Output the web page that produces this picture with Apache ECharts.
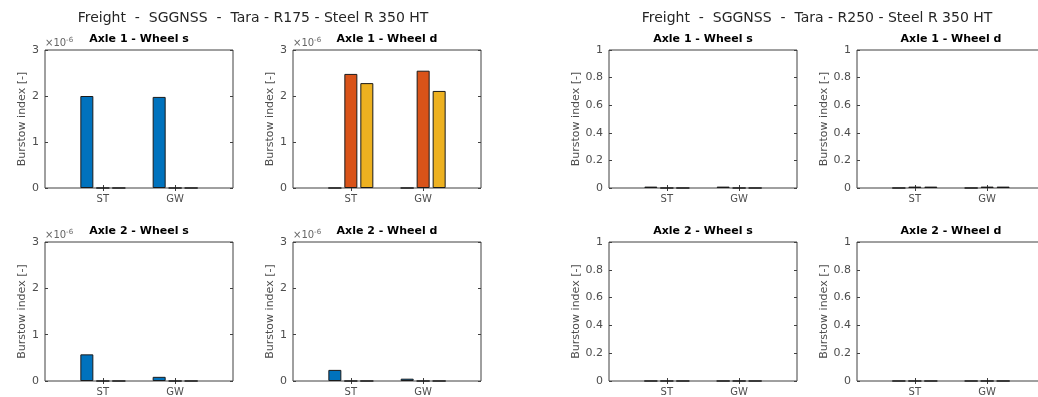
<!DOCTYPE html>
<html>
<head>
<meta charset="utf-8">
<script src="https://cdn.jsdelivr.net/npm/echarts@6/dist/echarts.min.js"></script>
<style>
  html, body { margin: 0; padding: 0; background: #fff; overflow: hidden; }
  #chart { width: 1038px; height: 397px; }
</style>
</head>
<body>
<div id="chart"></div>
<script>
// Categories and bar series
const categories = ['ST', 'GW'];
const seriesNames = ['Series 1', 'Series 2', 'Series 3'];
const seriesColors = ['#0072BD', '#D95319', '#EDB120'];

const panelTitles = ['Axle 1 - Wheel s', 'Axle 1 - Wheel d', 'Axle 2 - Wheel s', 'Axle 2 - Wheel d'];
const figureTitles = [
  'Freight  -  SGGNSS  -  Tara - R175 - Steel R 350 HT',
  'Freight  -  SGGNSS  -  Tara - R250 - Steel R 350 HT'
];
const yAxisName = 'Burstow index [-]';

// Burstow index, one row per bar series, values for [ST, GW]
const r175Axle1S = [[2.00e-6, 1.98e-6], [0, 0], [0, 0]];
const r175Axle1D = [[0, 0], [2.48e-6, 2.55e-6], [2.28e-6, 2.11e-6]];
const r175Axle2S = [[0.575e-6, 0.09e-6], [0, 0], [0, 0]];
const r175Axle2D = [[0.24e-6, 0.05e-6], [0, 0], [0, 0]];
const r250Axle1S = [[0.01, 0.01], [0, 0], [0, 0]];
const r250Axle1D = [[0, 0], [0.01, 0.01], [0.01, 0.01]];
const r250Axle2S = [[0, 0], [0, 0], [0, 0]];
const r250Axle2D = [[0, 0], [0, 0], [0, 0]];

// Y tick values
const r175Ticks = [0, 1e-6, 2e-6, 3e-6];
const r250Ticks = [0, 0.2, 0.4, 0.6, 0.8, 1];

// ---- layout ----
const FONT = 'DejaVu Sans';
const AXIS_COLOR = '#404040';
const LABEL_COLOR = '#4d4d4d';
const colLeft = [45, 293, 609, 857];
const rowTop = [50, 242];
const rowHeight = [138, 139];
const panelWidth = 188;
const xRange = [0.2, 2.8];

const panels = [
  { data: r175Axle1S, col: 0, row: 0, title: panelTitles[0], ticks: r175Ticks, scaled: true },
  { data: r175Axle1D, col: 1, row: 0, title: panelTitles[1], ticks: r175Ticks, scaled: true },
  { data: r175Axle2S, col: 0, row: 1, title: panelTitles[2], ticks: r175Ticks, scaled: true },
  { data: r175Axle2D, col: 1, row: 1, title: panelTitles[3], ticks: r175Ticks, scaled: true },
  { data: r250Axle1S, col: 2, row: 0, title: panelTitles[0], ticks: r250Ticks, scaled: false },
  { data: r250Axle1D, col: 3, row: 0, title: panelTitles[1], ticks: r250Ticks, scaled: false },
  { data: r250Axle2S, col: 2, row: 1, title: panelTitles[2], ticks: r250Ticks, scaled: false },
  { data: r250Axle2D, col: 3, row: 1, title: panelTitles[3], ticks: r250Ticks, scaled: false }
];

const catPositions = categories.map((c, i) => i + 1);

const option = {
  animation: false,
  backgroundColor: '#fff',
  textStyle: { fontFamily: FONT },
  title: [],
  grid: [],
  xAxis: [],
  yAxis: [],
  graphic: [],
  series: []
};

// Figure titles
[253, 817].forEach((cx, i) => {
  option.title.push({
    text: figureTitles[i],
    left: cx, top: 11, padding: 0, textAlign: 'center',
    textStyle: { fontFamily: FONT, fontSize: 14, fontWeight: 'normal', color: '#262626' }
  });
});

panels.forEach((p, k) => {
  const left = colLeft[p.col];
  const top = rowTop[p.row];
  const height = rowHeight[p.row];

  option.title.push({
    text: p.title,
    left: left + panelWidth / 2, top: top - 16, padding: 0, textAlign: 'center',
    textStyle: { fontFamily: FONT, fontSize: 11, fontWeight: 'bold', color: '#000' }
  });

  option.grid.push({
    left: left, top: top, width: panelWidth, height: height,
    outerBoundsMode: 'none', containLabel: false,
    show: true, borderColor: AXIS_COLOR, borderWidth: 1, backgroundColor: '#fff'
  });

  const yMax = p.ticks[p.ticks.length - 1];
  const yStep = p.ticks[1];
  const fmt = p.scaled
    ? (v) => String(Math.round(v * 1e6))
    : (v) => String(+v.toFixed(1));

  // bottom and top x axes
  option.xAxis.push({
    type: 'value', gridIndex: k, min: xRange[0], max: xRange[1], position: 'bottom',
    axisLine: { show: false }, splitLine: { show: false },
    axisTick: { show: true, inside: true, length: 3, customValues: catPositions, lineStyle: { color: AXIS_COLOR } },
    axisLabel: {
      show: true, customValues: catPositions, margin: 6,
      formatter: (v) => categories[Math.round(v) - 1] || '',
      color: LABEL_COLOR, fontSize: 10, fontFamily: FONT
    }
  });
  option.xAxis.push({
    type: 'value', gridIndex: k, min: xRange[0], max: xRange[1], position: 'top',
    axisLine: { show: false }, splitLine: { show: false },
    axisTick: { show: true, inside: true, length: 3, customValues: catPositions, lineStyle: { color: AXIS_COLOR } },
    axisLabel: { show: false }
  });

  // left and right y axes
  option.yAxis.push({
    type: 'value', gridIndex: k, min: 0, max: yMax, interval: yStep, position: 'left',
    axisLine: { show: false }, splitLine: { show: false },
    axisTick: { show: true, inside: true, length: 3, lineStyle: { color: AXIS_COLOR } },
    axisLabel: { color: LABEL_COLOR, fontSize: 11, fontFamily: FONT, margin: 6, formatter: fmt },
    name: yAxisName, nameLocation: 'middle', nameGap: p.scaled ? 11 : 23,
    nameTextStyle: { color: LABEL_COLOR, fontSize: 11, fontFamily: FONT }
  });
  option.yAxis.push({
    type: 'value', gridIndex: k, min: 0, max: yMax, interval: yStep, position: 'right',
    axisLine: { show: false }, splitLine: { show: false },
    axisTick: { show: true, inside: true, length: 3, lineStyle: { color: AXIS_COLOR } },
    axisLabel: { show: false }
  });

  // exponent marker for the scaled panels
  if (p.scaled) {
    option.graphic.push({
      type: 'text', left: left, top: top - 13,
      style: {
        text: '{a|×10}{b|-6}',
        rich: {
          a: { fontFamily: FONT, fontSize: 10, fill: '#666', color: '#666' },
          b: { fontFamily: FONT, fontSize: 7, fill: '#666', color: '#666', padding: [0, 0, 5, 0] }
        }
      }
    });
  }

  p.data.forEach((vals, s) => {
    option.series.push({
      type: 'bar', name: seriesNames[s],
      xAxisIndex: k * 2, yAxisIndex: k * 2,
      barWidth: 13, barGap: '23%',
      itemStyle: { color: seriesColors[s], borderColor: '#1a1a1a', borderWidth: 1 },
      data: vals.map((v, i) => [catPositions[i], v])
    });
  });
});

const chart = echarts.init(document.getElementById('chart'), null, { renderer: 'canvas' });
chart.setOption(option);
</script>
</body>
</html>
